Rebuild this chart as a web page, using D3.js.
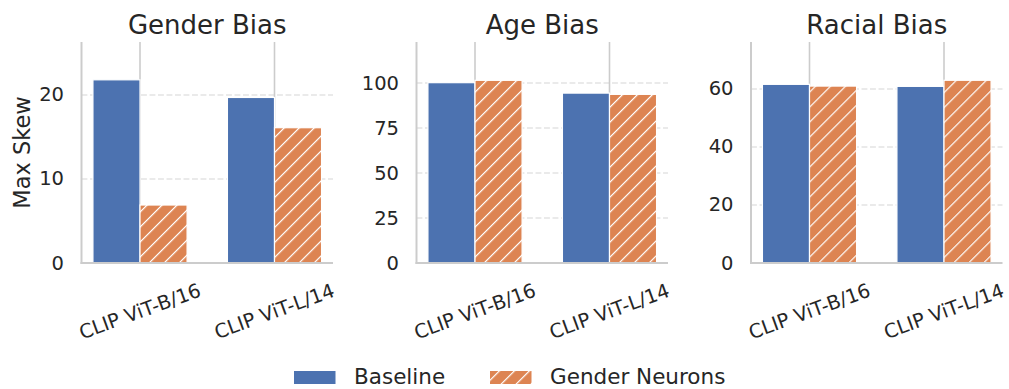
<!DOCTYPE html>
<html>
<head>
<meta charset="utf-8">
<script src="https://cdn.jsdelivr.net/npm/d3@7"></script>
<style>
  html, body { margin: 0; padding: 0; background: #fff; }
  svg { display: block; font-family: "DejaVu Sans", sans-serif; }
</style>
</head>
<body>
<svg id="chart" width="1009" height="389"></svg>
<script>
// ---- data ----
const categories = ["CLIP ViT-B/16", "CLIP ViT-L/14"];
const seriesNames = ["Baseline", "Gender Neurons"];
const panelTitles = ["Gender Bias", "Age Bias", "Racial Bias"];
const genderBaseline = [21.8, 19.7];
const genderNeurons = [6.9, 16.1];
const ageBaseline = [100.2, 94.4];
const ageNeurons = [101.5, 93.7];
const racialBaseline = [61.6, 60.9];
const racialNeurons = [61.0, 63.0];
const genderTicks = [0, 10, 20];
const ageTicks = [0, 25, 50, 75, 100];
const racialTicks = [0, 20, 40, 60];
const yMaxes = [26.3, 122.8, 76.2];

const panels = [
  { title: panelTitles[0], series: [genderBaseline, genderNeurons], ticks: genderTicks, ymax: yMaxes[0] },
  { title: panelTitles[1], series: [ageBaseline, ageNeurons], ticks: ageTicks, ymax: yMaxes[1] },
  { title: panelTitles[2], series: [racialBaseline, racialNeurons], ticks: racialTicks, ymax: yMaxes[2] }
];

// ---- layout ----
const lefts = [81.5, 416.5, 751];
const pw = 251.5, axTop = 42, axBottom = 263;
const colors = ["#4c72b0", "#dd8452"];
const textColor = "#262626";
const barW = 0.35;

const svg = d3.select("#chart");
const defs = svg.append("defs");
const pat = defs.append("pattern")
  .attr("id", "hatch")
  .attr("patternUnits", "userSpaceOnUse")
  .attr("width", 10.6).attr("height", 10.6)
  .attr("patternTransform", "rotate(45)");
pat.append("rect").attr("width", 10.6).attr("height", 10.6).attr("fill", colors[1]);
pat.append("line").attr("x1", 0).attr("y1", -1).attr("x2", 0).attr("y2", 12)
  .attr("stroke", "#fff").attr("stroke-width", 2.4);

panels.forEach((p, i) => {
  const g = svg.append("g").attr("transform", `translate(${lefts[i]},0)`);
  const x = d3.scaleLinear().domain([-0.435, 1.435]).range([0, pw]);
  const y = d3.scaleLinear().domain([0, p.ymax]).range([axBottom, axTop]);

  // horizontal dashed grid
  g.selectAll(".hgrid").data(p.ticks.filter(t => t > 0)).enter().append("line")
    .attr("x1", 0).attr("x2", pw)
    .attr("y1", d => y(d)).attr("y2", d => y(d))
    .attr("stroke", "#e3e3e3").attr("stroke-width", 1.6)
    .attr("stroke-dasharray", "5.9,2.6");
  // vertical solid grid at category ticks
  g.selectAll(".vgrid").data(categories).enter().append("line")
    .attr("x1", (d, j) => x(j)).attr("x2", (d, j) => x(j))
    .attr("y1", axTop).attr("y2", axBottom)
    .attr("stroke", "#cccccc").attr("stroke-width", 1.6);

  // bars
  p.series.forEach((vals, s) => {
    g.selectAll(".bar" + s).data(vals).enter().append("rect")
      .attr("x", (d, j) => x(j - barW + s * barW))
      .attr("width", x(barW) - x(0))
      .attr("y", d => y(d))
      .attr("height", d => y(0) - y(d))
      .attr("fill", s === 0 ? colors[0] : "url(#hatch)")
      .attr("stroke", "#fff").attr("stroke-width", 1.2);
  });

  // spines
  g.append("line").attr("x1", 0).attr("x2", 0).attr("y1", axTop).attr("y2", axBottom + 1)
    .attr("stroke", "#cccccc").attr("stroke-width", 2);
  g.append("line").attr("x1", -1).attr("x2", pw).attr("y1", axBottom).attr("y2", axBottom)
    .attr("stroke", "#cccccc").attr("stroke-width", 2);

  // y tick labels
  g.selectAll(".ytick").data(p.ticks).enter().append("text")
    .attr("x", -17.5).attr("y", d => y(d))
    .attr("text-anchor", "end").attr("dominant-baseline", "central")
    .attr("font-size", 19.5).attr("fill", textColor)
    .text(d => d);

  // x tick labels
  g.selectAll(".xtick").data(categories).enter().append("text")
    .attr("transform", (d, j) => `translate(${x(j)},311.5) rotate(-20)`)
    .attr("text-anchor", "middle").attr("dominant-baseline", "central")
    .attr("font-size", 19.5).attr("fill", textColor)
    .text(d => d);

  // title
  g.append("text").attr("x", pw / 2).attr("y", 34)
    .attr("text-anchor", "middle").attr("font-size", 26).attr("fill", textColor)
    .text(p.title);
});

// y label
svg.append("text")
  .attr("transform", `translate(22,152.5) rotate(-90)`)
  .attr("text-anchor", "middle").attr("dominant-baseline", "central")
  .attr("font-size", 22.5).attr("fill", textColor)
  .text("Max Skew");

// legend
const legX = [294, 490], legTextX = [354, 550];
seriesNames.forEach((n, s) => {
  svg.append("rect").attr("x", legX[s]).attr("y", 371).attr("width", 41.5).attr("height", 13)
    .attr("fill", s === 0 ? colors[0] : "url(#hatch)");
  svg.append("text").attr("x", legTextX[s]).attr("y", 384.3)
    .attr("font-size", 21.5).attr("fill", textColor).text(n);
});
</script>
</body>
</html>
